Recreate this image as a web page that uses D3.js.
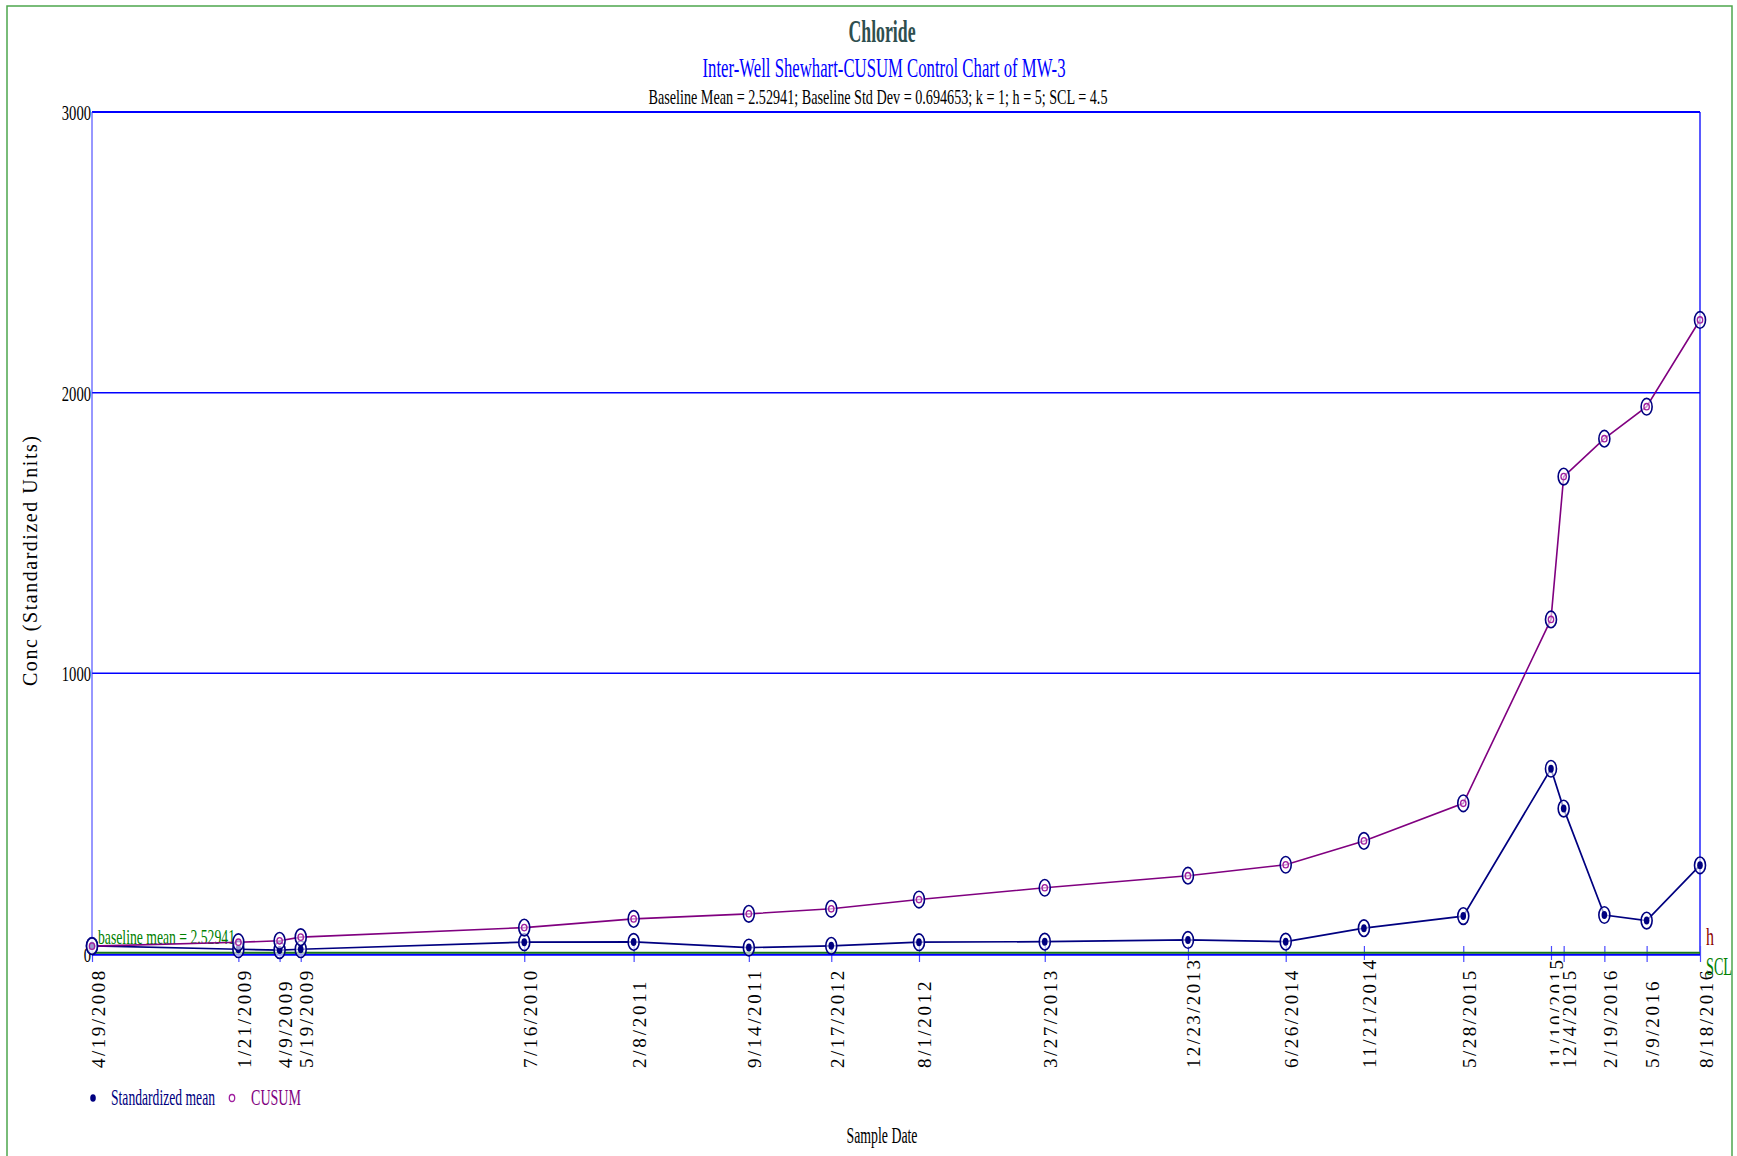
<!DOCTYPE html>
<html>
<head>
<meta charset="utf-8">
<script src="https://cdn.jsdelivr.net/npm/d3@7"></script>
<style>
  body { margin: 0; background: #fff; }
  text { font-family: "Liberation Serif", "Times New Roman", serif; }
</style>
</head>
<body>
<div id="chart"></div>
<script>
// sample dates, standardized mean and CUSUM
var sampleDates = ["4/19/2008", "1/21/2009", "4/9/2009", "5/19/2009", "7/16/2010", "2/8/2011",
    "9/14/2011", "2/17/2012", "8/1/2012", "3/27/2013", "12/23/2013", "6/26/2014", "11/21/2014",
    "5/28/2015", "11/10/2015", "12/4/2015", "2/19/2016", "5/9/2016", "8/18/2016"];
var stdMean = [29, 17, 14, 17, 42, 43, 23, 29, 42, 44, 50, 44, 92, 135, 660, 518, 139, 119, 316];
var cusum = [28, 42, 47, 60, 94, 125, 143, 161, 194, 236, 279, 318, 403, 537, 1192, 1701, 1836, 1950, 2259];
var yTicks = [0, 1000, 2000, 3000];
var baselineMean = 2.52941, hValue = 5, sclValue = 4.5;

var W = 1737, H = 1156;
var margin = {top: 112, right: 37, bottom: 202, left: 92};

var parse = d3.timeParse("%m/%d/%Y");
var dates = sampleDates.map(parse);

var svg = d3.select("#chart").append("svg")
    .attr("width", W)
    .attr("height", H);

// outer green border
svg.append("rect")
    .attr("x", 7).attr("y", 6)
    .attr("width", 1725).attr("height", 1170)
    .attr("fill", "none")
    .attr("stroke", "#4ea64e")
    .attr("stroke-width", 1.5);

var x = d3.scaleTime()
    .domain([dates[0], dates[dates.length - 1]])
    .range([margin.left, W - margin.right]);

var y = d3.scaleLinear()
    .domain([0, 3000])
    .range([H - margin.bottom, margin.top]);

function fit(sel, len, adj) {
    sel.attr("textLength", len).attr("lengthAdjust", adj || "spacingAndGlyphs");
}

// titles
svg.append("text")
    .attr("x", 882).attr("y", 42)
    .attr("text-anchor", "middle")
    .style("font-size", "32px").style("font-weight", "bold")
    .attr("fill", "#2f4f4f")
    .text("Chloride")
    .call(fit, 67);

svg.append("text")
    .attr("x", 884).attr("y", 77)
    .attr("text-anchor", "middle")
    .style("font-size", "27px")
    .attr("fill", "#0000ff")
    .text("Inter-Well Shewhart-CUSUM Control Chart of MW-3")
    .call(fit, 363);

svg.append("text")
    .attr("x", 878).attr("y", 104)
    .attr("text-anchor", "middle")
    .style("font-size", "21px")
    .attr("fill", "#000")
    .text("Baseline Mean = 2.52941; Baseline Std Dev = 0.694653; k = 1; h = 5; SCL = 4.5")
    .call(fit, 459);

// horizontal grid lines (incl. top frame)
svg.append("g")
    .selectAll("line")
    .data(yTicks.filter(function(d) { return d > 0; }))
    .enter()
    .append("line")
    .attr("x1", x.range()[0]).attr("x2", x.range()[1])
    .attr("y1", function(d) { return y(d); })
    .attr("y2", function(d) { return y(d); })
    .attr("stroke", "#0000ff")
    .attr("stroke-width", function(d) { return d === 3000 ? 2 : 1.5; });

// left / right frame
svg.append("line")
    .attr("x1", x.range()[0]).attr("x2", x.range()[0])
    .attr("y1", y(3000)).attr("y2", y(0))
    .attr("stroke", "#3030ff").attr("stroke-width", 1);
svg.append("line")
    .attr("x1", x.range()[1]).attr("x2", x.range()[1])
    .attr("y1", y(3000)).attr("y2", y(0))
    .attr("stroke", "#0000ff").attr("stroke-width", 1.3);

// y axis labels
var yAxis = svg.append("g")
    .attr("transform", "translate(" + (margin.left - 1) + ",0)")
    .call(d3.axisLeft(y).tickValues(yTicks).tickSize(0).tickPadding(0).tickFormat(d3.format("d")));
yAxis.select(".domain").remove();
yAxis.selectAll("text")
    .style("font-size", "22px")
    .attr("fill", "#000")
    .attr("dy", "0.34em")
    .each(function(d) {
        var t = d3.select(this);
        var len = 7.3 * String(d).length;
        t.attr("text-anchor", "start").attr("x", -len).call(fit, len);
    });

// x axis: ticks at every sample date with rotated labels
var xAxis = svg.append("g")
    .attr("transform", "translate(0," + y(0) + ")")
    .call(d3.axisBottom(x).tickValues(dates).tickSizeOuter(0).tickSizeInner(8)
        .tickFormat(function(d, i) { return sampleDates[i]; }));
xAxis.select(".domain").remove();
xAxis.selectAll(".tick line")
    .attr("y1", -8).attr("y2", 8)
    .attr("stroke", "#4a4aff").attr("stroke-width", 1.2);
xAxis.selectAll(".tick").each(function(d, i) {
    var g = d3.select(this);
    var len = 10.8 * sampleDates[i].length;
    var tf = "translate(12,114) rotate(-90)";
    g.insert("rect", "text")
        .attr("transform", tf)
        .attr("x", 0).attr("y", -17)
        .attr("width", len).attr("height", 19)
        .attr("fill", "#fff");
    g.select("text")
        .attr("x", 0).attr("y", 0).attr("dy", null)
        .attr("transform", tf)
        .attr("text-anchor", "start")
        .attr("fill", "#000")
        .style("font-size", "19px")
        .call(fit, len, "spacing");
});

// bottom axis line, h and SCL lines
svg.append("line")
    .attr("x1", x.range()[0]).attr("x2", x.range()[1])
    .attr("y1", y(0) + 0.8).attr("y2", y(0) + 0.8)
    .attr("stroke", "#0000ff").attr("stroke-width", 2);
svg.append("line")
    .attr("x1", x.range()[0]).attr("x2", x.range()[1])
    .attr("y1", y(hValue)).attr("y2", y(hValue))
    .attr("stroke", "#8b0000").attr("stroke-width", 1);
svg.append("line")
    .attr("x1", x.range()[0]).attr("x2", x.range()[1])
    .attr("y1", y(sclValue)).attr("y2", y(sclValue))
    .attr("stroke", "#1a7a1a").attr("stroke-width", 2.2);

svg.append("text")
    .attr("x", 98).attr("y", 944)
    .style("font-size", "21px")
    .attr("fill", "#008000")
    .text("baseline mean = " + baselineMean)
    .call(fit, 137);

svg.append("text")
    .attr("x", 1706).attr("y", 945)
    .style("font-size", "25px")
    .attr("fill", "#8b0000")
    .text("h")
    .call(fit, 8);
svg.append("text")
    .attr("x", 1706).attr("y", 975)
    .style("font-size", "25px")
    .attr("fill", "#008000")
    .text("SCL")
    .call(fit, 26);

// series lines
var seriesLine = d3.line()
    .x(function(d, i) { return x(dates[i]); })
    .y(function(d) { return y(d); });

svg.append("path")
    .datum(stdMean)
    .attr("d", seriesLine)
    .attr("fill", "none")
    .attr("stroke", "#000080")
    .attr("stroke-width", 1.7);

svg.append("path")
    .datum(cusum)
    .attr("d", seriesLine)
    .attr("fill", "none")
    .attr("stroke", "#800080")
    .attr("stroke-width", 1.6);

// markers
var mk = svg.append("g");
mk.selectAll(".mring")
    .data(stdMean).enter()
    .append("ellipse")
    .attr("cx", function(d, i) { return x(dates[i]); })
    .attr("cy", function(d) { return y(d); })
    .attr("rx", 5.5).attr("ry", 8.3)
    .attr("fill", "#fff").attr("fill-opacity", 0.6)
    .attr("stroke", "#000080").attr("stroke-width", 1.6);
mk.selectAll(".mdot")
    .data(stdMean).enter()
    .append("ellipse")
    .attr("cx", function(d, i) { return x(dates[i]); })
    .attr("cy", function(d) { return y(d); })
    .attr("rx", 2.8).attr("ry", 4)
    .attr("fill", "#000080");
mk.selectAll(".cring")
    .data(cusum).enter()
    .append("ellipse")
    .attr("cx", function(d, i) { return x(dates[i]); })
    .attr("cy", function(d) { return y(d); })
    .attr("rx", 5.5).attr("ry", 8.3)
    .attr("fill", "#fff").attr("fill-opacity", 0.6)
    .attr("stroke", "#000080").attr("stroke-width", 1.6);
mk.selectAll(".cin")
    .data(cusum).enter()
    .append("ellipse")
    .attr("cx", function(d, i) { return x(dates[i]); })
    .attr("cy", function(d) { return y(d); })
    .attr("rx", 2.7).attr("ry", 3.2)
    .attr("fill", "none")
    .attr("stroke", "#a020a0").attr("stroke-width", 1.3);

// axis titles
svg.append("text")
    .attr("transform", "translate(37,561) rotate(-90)")
    .attr("text-anchor", "middle")
    .style("font-size", "20px")
    .attr("fill", "#000")
    .text("Conc (Standardized Units)")
    .call(fit, 250, "spacing");

svg.append("text")
    .attr("x", 882).attr("y", 1143)
    .attr("text-anchor", "middle")
    .style("font-size", "23px")
    .attr("fill", "#000")
    .text("Sample Date")
    .call(fit, 71);

// legend
var legend = svg.append("g");
legend.append("ellipse")
    .attr("cx", 93).attr("cy", 1098)
    .attr("rx", 2.8).attr("ry", 3.8)
    .attr("fill", "#000080");
legend.append("text")
    .attr("x", 111).attr("y", 1105)
    .style("font-size", "23px")
    .attr("fill", "#000080")
    .text("Standardized mean")
    .call(fit, 104);
legend.append("ellipse")
    .attr("cx", 232).attr("cy", 1098)
    .attr("rx", 2.7).attr("ry", 3.5)
    .attr("fill", "none")
    .attr("stroke", "#a020a0").attr("stroke-width", 1.3);
legend.append("text")
    .attr("x", 251).attr("y", 1105)
    .style("font-size", "23px")
    .attr("fill", "#800080")
    .text("CUSUM")
    .call(fit, 50);
</script>
</body>
</html>
